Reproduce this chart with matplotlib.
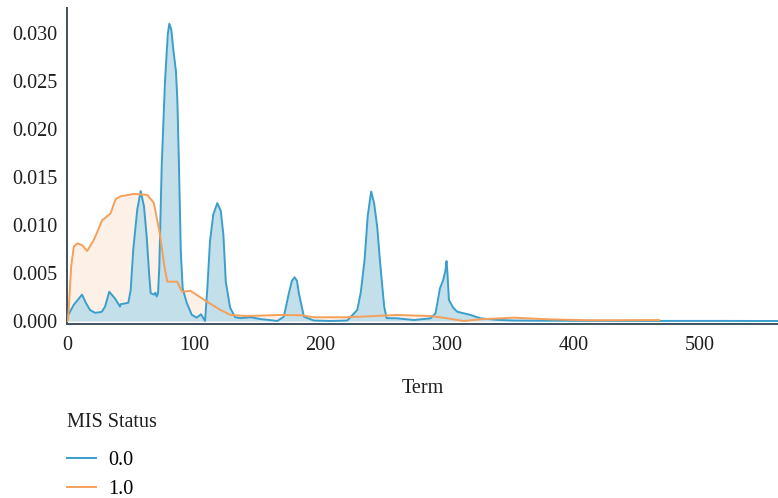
import matplotlib
matplotlib.use("Agg")
import matplotlib.pyplot as plt
from matplotlib.lines import Line2D

# density curves of Term for each MIS Status group (values in units of 1e-3)
term_0 = [0, 0.5, 5, 11.5, 14.5, 17.8, 21.8, 27, 29.7, 33, 37.6, 41.5, 42, 48.1, 50, 52,
          55.2, 57.9, 60.5, 62.6, 64.7, 65.8, 68.4, 69.5, 70.6, 71.6, 72.6, 74.5, 77.1,
          79.3, 80.5, 82.1, 83.7, 85.8, 86.9, 88.2, 89.6, 91.1, 94.3, 98.3, 102.2, 105.6,
          107, 108.8, 110.6, 112.7, 115.3, 118.5, 121.2, 123.3, 125.2, 128.6, 132.5, 137,
          144.8, 152.7, 160, 165.9, 171.1, 175.1, 177.5, 179.6, 181.5, 183, 187, 194.9,
          208, 221.3, 229.2, 232, 235, 237.5, 240.2, 242.5, 245, 247, 249, 250.5, 252.4,
          260.8, 274, 287.2, 291.1, 294.6, 297.2, 299, 299.8, 300.4, 301.7, 305, 308.3,
          318.8, 326.7, 340, 353, 380, 420, 470, 520, 562]
dens_0 = [0.3, 0.6, 1.7, 2.75, 1.9, 1.15, 0.85, 0.95, 1.5, 3.05, 2.35, 1.5, 1.75, 1.9, 3.25,
          7.45, 11.65, 13.55, 11.95, 8.85, 4.65, 2.9, 2.75, 2.95, 2.55, 2.9, 5.65, 16.15,
          24.95, 29.85, 31.0, 30.4, 28.3, 26.0, 23.0, 16.0, 7.3, 3.4, 1.9, 0.65, 0.35, 0.7,
          0.4, 0.0, 3.4, 8.3, 11.1, 12.3, 11.5, 9.0, 4.1, 1.4, 0.4, 0.3, 0.4, 0.2, 0.1, 0.0,
          0.45, 2.9, 4.2, 4.56, 4.2, 2.9, 0.45, 0.05, 0.0, 0.05, 1.15, 3.0, 6.4, 11.0, 13.5,
          12.3, 9.8, 6.5, 3.6, 1.5, 0.3, 0.28, 0.1, 0.28, 0.8, 3.4, 4.3, 5.3, 6.25, 5.3, 2.2,
          1.4, 0.97, 0.63, 0.28, 0.12, 0.05, 0.03, 0.02, 0.01, 0.01, 0.0]

term_1 = [0, 0.5, 2.9, 5, 7.7, 11.6, 15.6, 20.8, 27.4, 34, 38, 41.9, 52.5, 63, 66.6, 68.3,
          73, 76.7, 78.9, 86.8, 88.5, 90.7, 97.3, 110.5, 121, 129, 142, 168.5, 185, 194.9,
          221, 260.8, 287, 300.4, 313.5, 326.7, 353, 379.5, 411, 432, 468]
dens_1 = [0.0, 0.2, 5.7, 7.75, 8.1, 7.9, 7.3, 8.45, 10.5, 11.2, 12.7, 13.0, 13.25, 13.15,
          12.6, 12.3, 9.15, 5.65, 4.1, 4.1, 3.6, 3.05, 3.15, 2.0, 1.15, 0.63, 0.52, 0.63,
          0.6, 0.39, 0.39, 0.63, 0.52, 0.28, 0.0, 0.18, 0.35, 0.18, 0.08, 0.08, 0.1]

status_labels = ["0.0", "1.0"]

blue = "#3a9fcc"
blue_fill = "#c2dfea"
orange = "#f5a05a"
orange_fill = "#fdf1e7"

plt.rcParams["font.family"] = ["Liberation Serif", "DejaVu Serif"]

fig = plt.figure(figsize=(7.78, 4.98), dpi=100)
ax = fig.add_axes([67 / 778, 1 - 323.5 / 498, (778 - 67) / 778, (323.5 - 8) / 498])

y0 = [v / 1000 for v in dens_0]
y1 = [v / 1000 for v in dens_1]

ax.fill_between(term_1, y1, 0, color=orange_fill, lw=0, zorder=1)
ax.fill_between(term_0, y0, 0, color=blue_fill, lw=0, zorder=2)
ax.plot(term_0, y0, color=blue, lw=1.4, zorder=3)
ax.plot(term_1, y1, color=orange, lw=1.4, zorder=4)

ax.set_xlim(-0.4, 562)
ax.set_ylim(-0.00026, 0.03264)
ax.set_xticks([0, 100, 200, 300, 400, 500])
ax.set_yticks([0, 0.005, 0.010, 0.015, 0.020, 0.025, 0.030])
ax.set_yticklabels(["%.3f" % t for t in ax.get_yticks()])

for s in ["top", "right"]:
    ax.spines[s].set_visible(False)
for s in ["left", "bottom"]:
    ax.spines[s].set_color("#3e5060")
    ax.spines[s].set_linewidth(1.4)

ax.tick_params(axis="both", length=0, labelsize=14.5, labelcolor="#1e1e1e")
ax.tick_params(axis="x", pad=9)
ax.tick_params(axis="y", pad=7)
ax.set_xlabel("Term", fontsize=14.5, color="#1e1e1e", labelpad=17)

# legend sits under the axes, title drawn separately for the wider gap
fig.text(67 / 778, 1 - 422 / 498, "MIS Status", fontsize=14.5, color="#1e1e1e",
         ha="left", va="center")
handles = [Line2D([], [], color=blue, lw=1.4), Line2D([], [], color=orange, lw=1.4)]
fig.legend(handles, status_labels, loc="upper left",
           bbox_to_anchor=(67 / 778, 1 - 451 / 498), bbox_transform=fig.transFigure,
           frameon=False, fontsize=14.5, borderpad=0, borderaxespad=0,
           handlelength=1.45, handletextpad=0.6, labelspacing=0.5)

fig.savefig("out.png", dpi=100)
